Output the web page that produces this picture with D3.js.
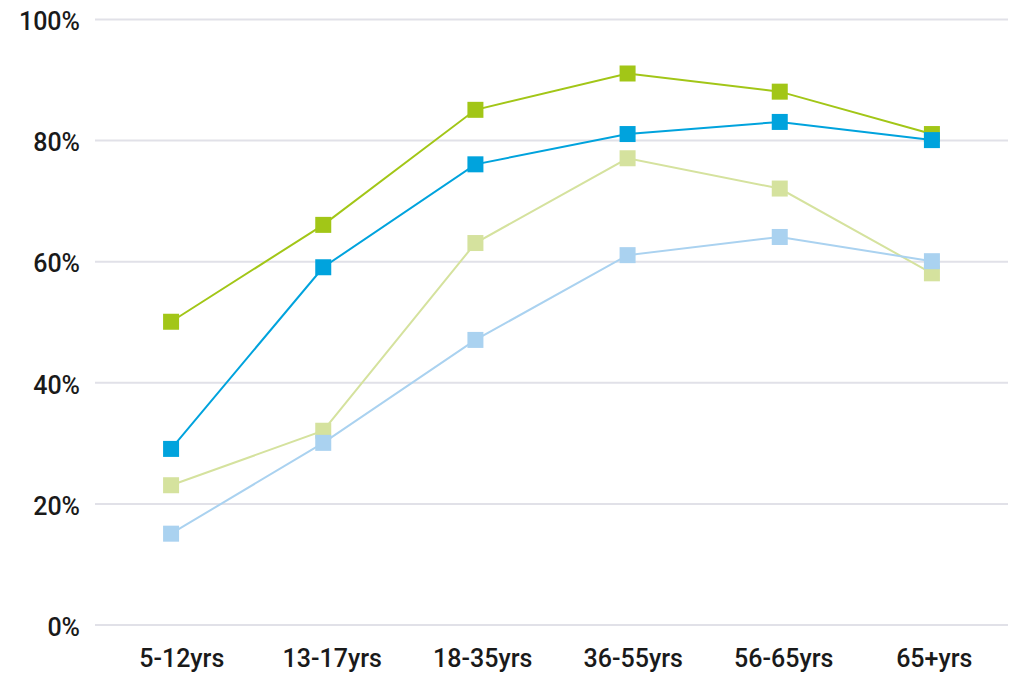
<!DOCTYPE html>
<html>
<head>
<meta charset="utf-8">
<script src="https://cdn.jsdelivr.net/npm/d3@7"></script>
<style>
  html, body { margin: 0; padding: 0; background: #fff; }
  svg { display: block; }
  text { font-family: Roboto, "Noto Sans", sans-serif; }
</style>
</head>
<body>
<svg id="chart" width="1012" height="674"></svg>
<script>
// Age groups along the x axis
const categories = ["5-12yrs", "13-17yrs", "18-35yrs", "36-55yrs", "56-65yrs", "65+yrs"];

// Percentage values for each series
const seriesGreen      = [50, 66, 85, 91, 88, 81];
const seriesBlue       = [29, 59, 76, 81, 83, 80];
const seriesLightGreen = [23, 32, 63, 77, 72, 58];
const seriesLightBlue  = [15, 30, 47, 61, 64, 60];

// Y axis ticks
const yTicks = [0, 20, 40, 60, 80, 100];

const series = [
  { values: seriesGreen,      color: "#a2c617" },
  { values: seriesLightGreen, color: "#d5e29e" },
  { values: seriesBlue,       color: "#00a3dd" },
  { values: seriesLightBlue,  color: "#aad2f0" }
];

const svg = d3.select("#chart");
const plot = { left: 95, right: 1008, top: 19, bottom: 624.5 };
const labelFont = "Roboto, 'Noto Sans', sans-serif";
const fontSize = 25;

const x = d3.scalePoint().domain(categories).range([plot.left, plot.right]).padding(0.5);
// Category labels sit on a slightly narrower, right-shifted band
const xLabel = d3.scalePoint().domain(categories).range([106, 1009]).padding(0.5);
const y = d3.scaleLinear().domain([0, 100]).range([plot.bottom, plot.top]);

// Horizontal gridlines with percent labels
const yAxis = d3.axisLeft(y).tickValues(yTicks).tickSize(-(plot.right - plot.left)).tickPadding(15)
  .tickFormat(d => d + "%");
const gy = svg.append("g").attr("transform", `translate(${plot.left},0)`).call(yAxis)
  .attr("font-family", labelFont);
gy.select(".domain").remove();
gy.selectAll(".tick line").attr("stroke", "#e1e1e8").attr("stroke-width", 2);
gy.selectAll(".tick text").attr("fill", "#1a1a1a").attr("font-size", fontSize)
  .attr("font-weight", 500).attr("dy", "0.43em");

// Category labels
const xAxis = d3.axisBottom(xLabel).tickSize(0).tickPadding(25);
const gx = svg.append("g").attr("transform", `translate(0,${plot.bottom})`).call(xAxis)
  .attr("font-family", labelFont);
gx.select(".domain").remove();
gx.selectAll(".tick text").attr("fill", "#1a1a1a").attr("font-size", fontSize)
  .attr("font-weight", 500);

// Lines and square markers
const line = d3.line().x((d, i) => x(categories[i])).y(d => y(d));
const size = 16;

series.forEach(s => {
  const g = svg.append("g");
  g.append("path").datum(s.values).attr("d", line)
    .attr("fill", "none").attr("stroke", s.color).attr("stroke-width", 2);
  g.selectAll("rect").data(s.values).join("rect")
    .attr("x", (d, i) => x(categories[i]) - size / 2)
    .attr("y", d => y(d) - size / 2)
    .attr("width", size).attr("height", size)
    .attr("fill", s.color);
});
</script>
</body>
</html>
